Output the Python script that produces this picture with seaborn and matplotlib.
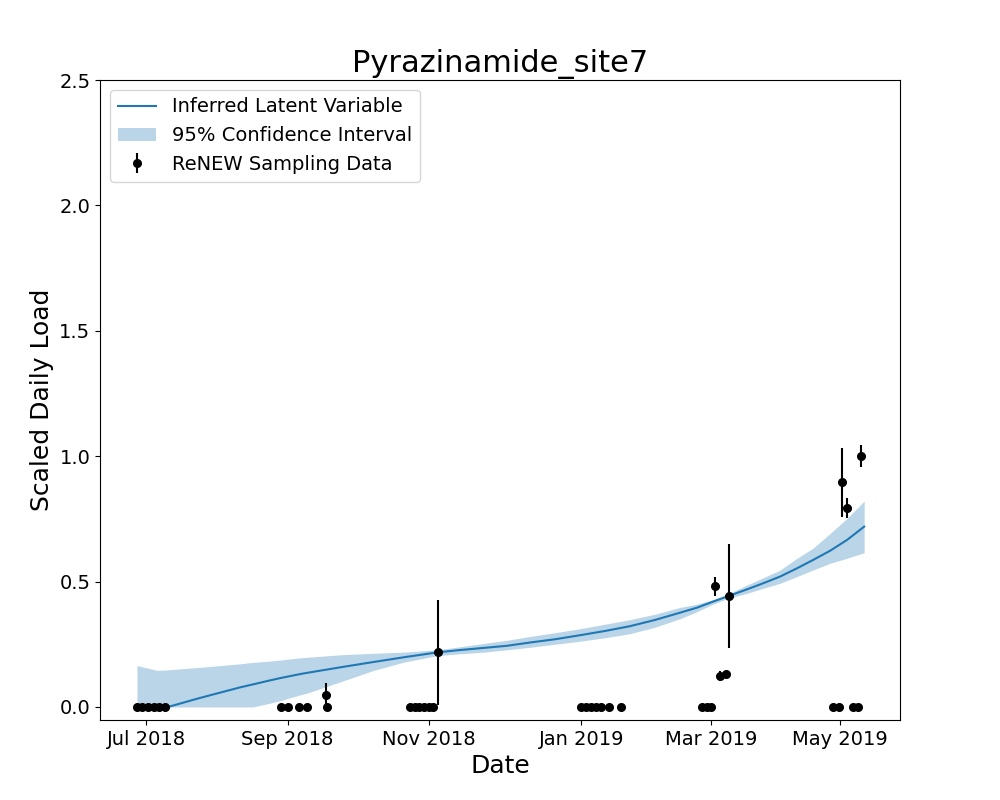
import numpy as np
import pandas as pd
import matplotlib
matplotlib.use("Agg")
import matplotlib.pyplot as plt
import seaborn as sns

# x axis is in days counted from the "Jul 2018" tick
tick_pos = [0, 61.9, 123.7, 190.5, 247.5, 303.9]
tick_labels = ["Jul 2018", "Sep 2018", "Nov 2018", "Jan 2019", "Mar 2019", "May 2019"]

# inferred latent curve + 95% band
curve_x = [-4.1, 4.7, 9.5, 23.5, 41.0, 46.7, 54.2, 58.6, 67.3, 70.4, 84.9, 99.3,
           113.4, 127.8, 137.4, 148.4, 158.0, 168.1, 179.0, 189.9, 200.9, 211.8,
           222.8, 233.8, 241.2, 248.2, 255.2, 263.1, 270.1, 277.6, 285.0, 292.0,
           299.5, 306.9, 314.4]
curve_y = [0, 0, 0, 0.036, 0.078, 0.09, 0.106, 0.115, 0.131, 0.136, 0.158, 0.179,
           0.199, 0.218, 0.227, 0.236, 0.244, 0.257, 0.27, 0.286, 0.303, 0.322,
           0.347, 0.376, 0.396, 0.42, 0.443, 0.469, 0.493, 0.52, 0.553, 0.586,
           0.623, 0.666, 0.719]
band_high = [0.165, 0.146, 0.148, 0.158, 0.172, 0.178, 0.183, 0.187, 0.196, 0.198, 0.208, 0.214,
             0.219, 0.228, 0.24, 0.254, 0.266, 0.281, 0.296, 0.312, 0.33, 0.348,
             0.37, 0.397, 0.41, 0.428, 0.452, 0.486, 0.515, 0.546, 0.593, 0.633,
             0.692, 0.752, 0.821]
band_low = [0, 0, 0, 0, 0, 0, 0.015, 0.025, 0.048, 0.055, 0.1, 0.145,
            0.18, 0.205, 0.212, 0.219, 0.228, 0.238, 0.25, 0.262, 0.276, 0.292,
            0.318, 0.352, 0.38, 0.41, 0.434, 0.453, 0.473, 0.493, 0.52, 0.546,
            0.573, 0.593, 0.615]

# ReNEW sampling data
obs_x = [-4.2, -1.8, 0.7, 3.2, 5.7, 8.2,
         58.8, 61.9, 67.0, 70.3, 78.7, 79.3,
         115.5, 117.6, 119.6, 121.6, 123.7, 125.7, 127.9,
         190.4, 192.6, 194.8, 197.0, 199.2, 202.8, 207.9,
         243.3, 245.4, 247.5, 249.1, 251.3, 253.7, 255.4,
         300.9, 303.4, 304.9, 307.0, 309.4, 311.6, 313.2]
obs_y = [0, 0, 0, 0, 0, 0,
         0, 0, 0, 0, 0.048, 0,
         0, 0, 0, 0, 0, 0, 0.218,
         0, 0, 0, 0, 0, 0, 0,
         0, 0, 0, 0.482, 0.125, 0.13, 0.443,
         0, 0, 0.896, 0.792, 0, 0, 1.0]
obs_err = [0, 0, 0, 0, 0, 0,
           0, 0, 0, 0, 0.046, 0,
           0, 0, 0, 0, 0, 0, 0.21,
           0, 0, 0, 0, 0, 0, 0,
           0, 0, 0, 0.038, 0.02, 0.01, 0.207,
           0, 0, 0.138, 0.04, 0, 0, 0.043]

curve = pd.DataFrame({"x": curve_x, "y": curve_y, "lo": band_low, "hi": band_high})

fig, ax = plt.subplots(figsize=(10, 8), dpi=100)
fig.subplots_adjust(left=0.1, right=0.9, bottom=0.1, top=0.9)

sns.lineplot(data=curve, x="x", y="y", color="C0", lw=1.5, ax=ax, label="Inferred Latent Variable")
ax.fill_between(curve["x"], curve["lo"], curve["hi"], color="C0", alpha=0.3, lw=0,
                label="95% Confidence Interval")
ax.errorbar(obs_x, obs_y, yerr=obs_err, fmt="o", color="black", ms=5.5,
            label="ReNEW Sampling Data")

ax.set_xlim(-20.3, 330.1)
ax.set_ylim(-0.052, 2.5)
ax.set_xticks(tick_pos)
ax.set_xticklabels(tick_labels)
ax.set_yticks([0, 0.5, 1.0, 1.5, 2.0, 2.5])
ax.tick_params(labelsize=14)

ax.set_title("Pyrazinamide_site7", fontsize=22)
ax.set_xlabel("Date", fontsize=18)
ax.set_ylabel("Scaled Daily Load", fontsize=18)
ax.legend(loc="upper left", fontsize=14)

plt.savefig("out.png", dpi=100)
plt.close()
